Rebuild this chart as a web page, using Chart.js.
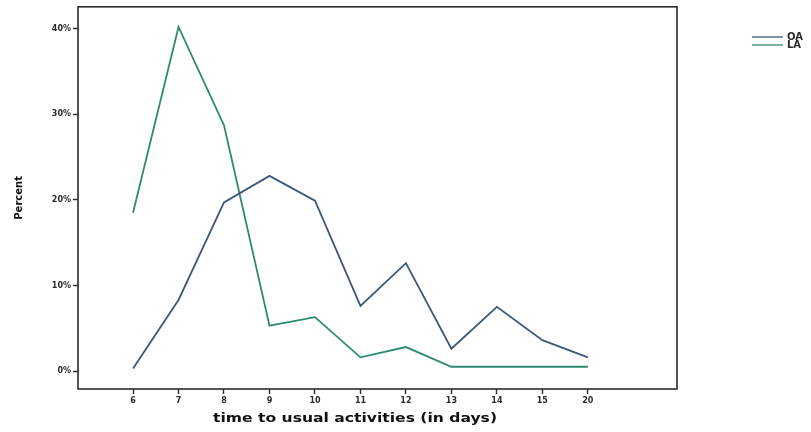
<!DOCTYPE html>
<html>
<head>
<meta charset="utf-8">
<script src="https://cdn.jsdelivr.net/npm/chart.js@4/dist/chart.umd.min.js"></script>
<style>
  html, body { margin: 0; padding: 0; background: #fff; }
  #wrap { width: 811px; height: 432px; position: relative; }
</style>
</head>
<body>
<div id="wrap"><canvas id="chart" width="811" height="432"></canvas></div>
<script>
// days (x categories)
const days = ["6", "7", "8", "9", "10", "11", "12", "13", "14", "15", "20"];
// percent per group
const oaValues = [0.3, 8.3, 19.7, 22.8, 19.9, 7.6, 12.6, 2.6, 7.5, 3.6, 1.6];
const laValues = [18.5, 40.2, 28.7, 5.3, 6.3, 1.6, 2.8, 0.5, 0.5, 0.5, 0.5];
const yTicks = [0, 10, 20, 30, 40];
const xTitle = "time to usual activities (in days)";
const yTitle = "Percent";

const ink = "#2b2b2b";
const tickFont = { family: "DejaVu Sans", size: 8, weight: "bold" };

// frame, legend and x title
const framePlugin = {
    id: "frame",
    afterDraw(chart) {
        const ctx = chart.ctx;
        const a = chart.chartArea;
        ctx.save();
        ctx.strokeStyle = ink;
        ctx.lineWidth = 1.6;
        ctx.strokeRect(a.left, a.top, a.right - a.left, a.bottom - a.top);

        // legend
        ctx.font = "bold 10px 'DejaVu Sans'";
        ctx.textBaseline = "middle";
        chart.data.datasets.forEach((ds, i) => {
            const y = 37 + i * 8;
            ctx.strokeStyle = ds.borderColor;
            ctx.lineWidth = 1.3;
            ctx.beginPath();
            ctx.moveTo(752, y);
            ctx.lineTo(783, y);
            ctx.stroke();
            ctx.fillStyle = ink;
            ctx.fillText(ds.label, 787, y);
        });

        // x title, stretched to the width it has in the scan
        ctx.font = "bold 12px 'DejaVu Sans'";
        ctx.textAlign = "center";
        ctx.fillStyle = "#111";
        const w = ctx.measureText(xTitle).width;
        ctx.translate(355, 419);
        ctx.scale(284 / w, 1.05);
        ctx.fillText(xTitle, 0, 0);
        ctx.restore();
    }
};

new Chart(document.getElementById("chart"), {
    type: "line",
    data: {
        datasets: [
            {
                label: "OA",
                data: oaValues.map((v, i) => ({ x: i, y: v })),
                borderColor: "#3d5878",
                borderWidth: 1.8,
                pointRadius: 0,
                tension: 0
            },
            {
                label: "LA",
                data: laValues.map((v, i) => ({ x: i, y: v })),
                borderColor: "#2f8a72",
                borderWidth: 1.8,
                pointRadius: 0,
                tension: 0
            }
        ]
    },
    options: {
        responsive: false,
        animation: false,
        layout: { padding: { left: 0, right: 134, top: 6, bottom: 0 } },
        plugins: {
            legend: { display: false },
            tooltip: { enabled: false }
        },
        scales: {
            x: {
                type: "linear",
                min: -1.21,
                max: 11.96,
                afterBuildTicks: s => { s.ticks = days.map((d, i) => ({ value: i })); },
                afterFit: s => { s.height = 43; },
                ticks: {
                    autoSkip: false,
                    maxRotation: 0,
                    color: ink,
                    font: tickFont,
                    padding: 2,
                    callback: v => days[v]
                },
                grid: { drawOnChartArea: false, drawTicks: true, tickLength: 5, tickColor: ink, tickWidth: 1.4 },
                border: { display: false }
            },
            y: {
                min: -2.1,
                max: 42.55,
                afterBuildTicks: s => { s.ticks = yTicks.map(v => ({ value: v })); },
                afterFit: s => { s.width = 78; },
                ticks: {
                    color: ink,
                    font: tickFont,
                    padding: 2,
                    callback: v => v + "%"
                },
                grid: { drawOnChartArea: false, drawTicks: true, tickLength: 5, tickColor: ink, tickWidth: 1.4 },
                border: { display: false },
                title: {
                    display: true,
                    text: yTitle,
                    color: "#111",
                    font: { family: "DejaVu Sans", size: 10, weight: "bold" },
                    padding: { top: 13, bottom: 0 }
                }
            }
        }
    },
    plugins: [framePlugin]
});
</script>
</body>
</html>
